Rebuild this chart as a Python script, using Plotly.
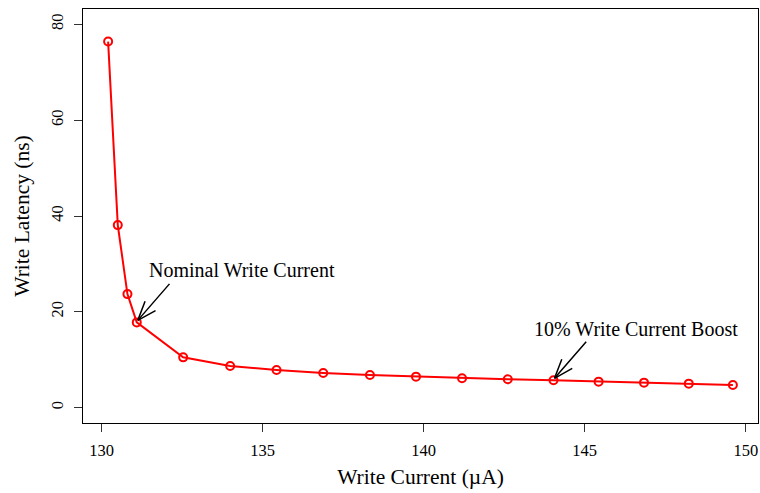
import math
import plotly.graph_objects as go

# Data
write_current = [130.20, 130.50, 130.80, 131.09, 132.53, 133.99, 135.43, 136.88, 138.33,
                 139.76, 141.19, 142.61, 144.03, 145.43, 146.84, 148.23, 149.60]
write_latency = [76.4, 38.1, 23.7, 17.8, 10.5, 8.7, 7.87, 7.24, 6.82,
                 6.47, 6.13, 5.92, 5.71, 5.43, 5.22, 5.01, 4.74]

x_ticks = [130, 135, 140, 145, 150]
y_ticks = [0, 20, 40, 60, 80]

label_texts = ["Nominal Write Current", "10% Write Current Boost"]
label_x = [134.35, 146.59]
label_y = [28.7, 16.4]
arrow_idx = [3, 12]  # points the arrows target

FONT = "Liberation Serif, Times New Roman, serif"

fig = go.Figure()
fig.add_trace(go.Scatter(
    x=write_current, y=write_latency, mode="lines+markers",
    line=dict(color="#FF0000", width=2),
    marker=dict(symbol="circle-open", size=8, color="#FF0000", line=dict(width=2)),
    showlegend=False, hoverinfo="skip",
))

annotations = []
for t, lx, ly in zip(label_texts, label_x, label_y):
    annotations.append(dict(x=lx, y=ly, xref="x", yref="y", text=t, showarrow=False,
                            font=dict(family=FONT, size=20, color="black"),
                            xanchor="center", yanchor="middle"))

# open "V" arrows: shaft + two head strokes (pixel offsets)
shaft = (33, -38)
ang = math.atan2(shaft[1], shaft[0])
head_len, head_ang = 22, math.radians(20)
segments = [shaft,
            (head_len * math.cos(ang + head_ang), head_len * math.sin(ang + head_ang)),
            (head_len * math.cos(ang - head_ang), head_len * math.sin(ang - head_ang))]
for i in arrow_idx:
    for dx, dy in segments:
        annotations.append(dict(x=write_current[i], y=write_latency[i], xref="x", yref="y",
                                text="", showarrow=True, arrowhead=0, arrowwidth=1.5,
                                arrowcolor="black", ax=dx, ay=dy, standoff=0,
                                xshift=1, yshift=2))

fig.update_layout(
    width=760, height=493,
    margin=dict(l=83, r=2, t=9, b=70),
    paper_bgcolor="white", plot_bgcolor="white",
    font=dict(family=FONT, color="black"),
    annotations=annotations,
)
fig.update_xaxes(
    range=[129.42, 150.38], tickvals=x_ticks, ticktext=[str(v) for v in x_ticks],
    showgrid=False, zeroline=False, showline=True, mirror=True, linecolor="black", linewidth=1,
    ticks="outside", ticklen=8, tickcolor="#333", tickwidth=1,
    tickfont=dict(family=FONT, size=16.5, color="black"), ticklabelstandoff=4,
    title=dict(text="Write Current (µA)", font=dict(family=FONT, size=21.5, color="black"), standoff=10),
)
fig.update_yaxes(
    range=[-3.2, 83.2], tickvals=y_ticks, ticktext=[str(v) for v in y_ticks],
    showgrid=False, zeroline=False, showline=True, mirror=True, linecolor="black", linewidth=1,
    ticks="outside", ticklen=8, tickcolor="#333", tickwidth=1, tickangle=-90,
    tickfont=dict(family=FONT, size=16.5, color="black"), ticklabelstandoff=4,
    title=dict(text="Write Latency (ns)", font=dict(family=FONT, size=21.5, color="black"), standoff=12),
)

fig.write_html("out.html")
